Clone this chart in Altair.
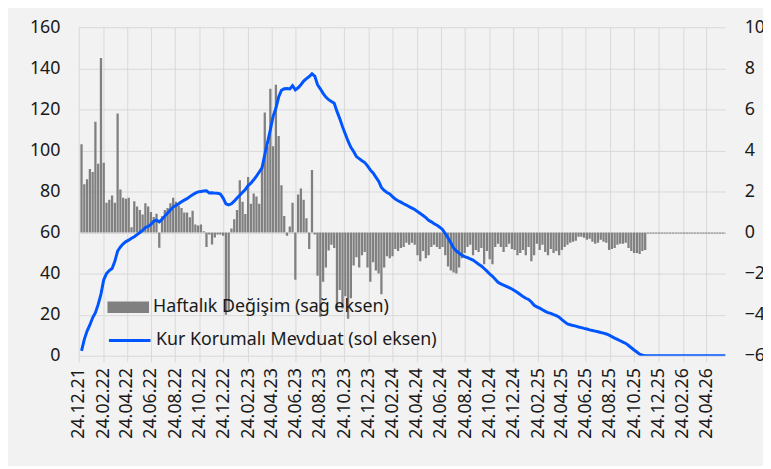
import altair as alt
import pandas as pd

# ---------------- data ----------------
first_week = "2021-12-31"

weekly_change = [
    4.3, 2.35, 2.6, 3.1, 2.95, 5.4, 3.35, 8.5, 3.4, 1.45,
    1.6, 1.8, 1.45, 5.8, 2.1, 1.7, 1.65, 1.7, 0.26, 1.53,
    1.27, 1.1, 0.88, 1.43, 1.27, 1.0, 0.76, 0.92, -0.74, 0.79,
    1.1, 1.2, 1.43, 1.7, 1.5, 1.3, 1.19, 0.98, 0.98, 0.74,
    1.06, 0.39, 0.34, 0.39, 0.06, -0.7, -0.1, -0.58, -0.24, -0.1,
    -0.1, -0.15, -4.0, -3.8,
    0.2, 0.65, 1.1, 2.55, 1.5, 0.9, 2.7, 1.4, 1.9, 1.75,
    1.4, 3.1, 5.85, 4.2, 7.0, 4.2, 7.2, 4.7, 2.3, 0.8,
    -0.15, 0.3, 1.45, -2.3, 1.85, 2.15, 1.6, 0.7, -0.8, 3.05,
    -0.1,
    -2.1, -4.1, -2.4, -1.7, -0.88, -0.6, -0.75, -3.8, -2.8, -3.7,
    -3.1, -4.2, -3.2, -1.6, -1.2, -1.7, -1.1, -0.95, -1.7, -2.4,
    -1.45, -1.85, -2.0, -3.0, -1.7, -1.15, -1.25, -1.15, -0.8, -0.9,
    -0.75, -0.7, -0.5, -0.6, -0.5, -0.6, -1.1, -1.4, -0.9, -1.25,
    -1.1, -0.7, -0.6, -0.7, -0.8, -0.7, -1.1, -1.65, -1.85, -1.95,
    -2.0, -1.7, -1.25,
    -1.0, -0.7, -0.6, -1.1, -0.85, -0.95, -0.75, -1.55, -0.9, -1.3,
    -1.55, -0.7, -0.55, -0.7, -0.95, -0.7, -0.55, -0.8, -0.85, -1.1,
    -1.0, -0.85, -1.1, -0.7,
    -1.4, -1.1, -0.55, -0.85, -0.6, -0.95, -1.1, -0.8, -1.0, -0.9,
    -1.1, -0.85, -0.7, -0.6, -0.5,
    -0.45, -0.4, -0.2, -0.2, -0.25, -0.35, -0.3, -0.45, -0.55, -0.5,
    -0.35, -0.45, -0.5, -0.85, -0.8, -0.75, -0.6, -0.55, -0.55, -0.5,
    -0.75, -0.9, -1.0, -1.0, -1.05, -0.9, -0.85,
    -0.05, -0.05, -0.05, -0.05, -0.05, -0.05, -0.05, -0.05, -0.05, -0.05,
    -0.05, -0.05, -0.05, -0.05, -0.05, -0.05, -0.05, -0.05, -0.05, -0.05,
    -0.05, -0.05, -0.05, -0.05, -0.05, -0.05, -0.05, -0.05, -0.05,
]

kkm_stock = [
    2.4, 8, 12, 15, 18.5, 21, 25, 30, 37, 40,
    41.5, 42.5, 46, 51, 53, 54.5, 55.6, 56.3, 57.2, 58,
    59, 60, 61, 62.5, 63, 64, 65.5, 66, 65.2, 66.5,
    68, 69.5, 71, 72.4, 73.2, 74, 75, 75.8, 76.5, 77.5,
    78.4, 79.2, 79.8, 80, 80.2, 80.3, 79.3, 79.4, 79.2, 79.1,
    78.8, 76.8, 74, 73.5, 74, 75.3, 76.8, 78.2, 79.6, 81,
    82.9, 84, 85.7, 87.5, 89.5, 91.5, 98, 104, 110, 116.6,
    120.5, 126, 129.3, 130, 130.1, 129.9, 131.5, 129.5, 130.5, 132,
    133.8, 135, 136, 137.3, 136.2, 132, 130, 127.8, 126, 124.7,
    123.8, 123, 119, 115.5, 111.5, 108, 104.5, 101.5, 99.5, 97,
    96, 95, 94.1, 92.5, 90.5, 89, 87, 85, 82, 80.5,
    79.5, 78.8, 77.5, 76.3, 75.5, 74.8, 74, 73.4, 72.6, 71.9,
    71.2, 70.2, 69.3, 68.3, 67.3, 66, 65.2, 64.3, 63.6, 62.6,
    61.5, 59.5, 57.3, 55, 52.5, 51, 50, 49, 48.3, 47.8,
    47.2, 46.6, 45.6, 44.6, 43.7, 42.5, 41.2, 39.8, 38.7, 37.3,
    35.8, 35, 34.4, 33.8, 33.2, 32.5, 31.7, 30.8, 29.8, 28.8,
    28, 27.4, 26.2, 24.6, 23.8, 23.2, 22.4, 21.6, 21, 20.6,
    20, 19.5, 18.8, 17.6, 16.5, 15.5, 15.1, 14.7, 14.4, 14.0,
    13.7, 13.3, 13.0, 12.6, 12.3, 12, 11.7, 11.3, 11, 10.6,
    10, 9.3, 8.6, 8, 7.3, 6.6, 6, 5, 3.9, 2.8,
    1.8, 0.8, 0.3, 0,
    0, 0, 0, 0, 0, 0, 0, 0, 0, 0,
    0, 0, 0, 0, 0, 0, 0, 0, 0, 0,
    0, 0, 0, 0, 0, 0, 0, 0, 0,
]

tick_dates = [
    "2021-12-24",
    "2022-02-24", "2022-04-24", "2022-06-24", "2022-08-24", "2022-10-24", "2022-12-24",
    "2023-02-24", "2023-04-24", "2023-06-24", "2023-08-24", "2023-10-24", "2023-12-24",
    "2024-02-24", "2024-04-24", "2024-06-24", "2024-08-24", "2024-10-24", "2024-12-24",
    "2025-02-24", "2025-04-24", "2025-06-24", "2025-08-24", "2025-10-24", "2025-12-24",
    "2026-02-24", "2026-04-24",
]

left_ticks = [0, 20, 40, 60, 80, 100, 120, 140, 160]
right_ticks = [-6, -4, -2, 0, 2, 4, 6, 8, 10]

bar_name = "Haftalık Değişim (sağ eksen)"
line_name = "Kur Korumalı Mevduat (sol eksen)"

# ---------------- table ----------------
dates = pd.date_range(first_week, periods=len(kkm_stock), freq="7D")
df = pd.DataFrame({
    "date": dates.strftime("%Y-%m-%d"),
    "change": weekly_change,
    "stock": kkm_stock,
    "bar_series": bar_name,
    "line_series": line_name,
})


def dt(s):
    y, m, d = (int(v) for v in s.split("-"))
    return alt.DateTime(year=y, month=m, date=d, utc=True)


FONT = "Noto Sans"
GRID = "#d9d9d9"
TEXT = "#1a1a1a"

x_enc = alt.X(
    "date:T",
    title=None,
    scale=alt.Scale(
        type="utc",
        padding=0,
        domain=[dt("2021-12-24"), alt.DateTime(year=2026, month=6, date=11, hours=5, utc=True)],
    ),
    axis=alt.Axis(
        values=[dt(s) for s in tick_dates],
        format="%d.%m.%y",
        labelAngle=270,
        labelFont=FONT,
        labelFontSize=18,
        labelColor=TEXT,
        labelPadding=6,
        tickSize=6,
        tickColor=GRID,
        grid=True,
        gridColor=GRID,
        gridWidth=1,
        domain=False,
        labelOverlap=False,
    ),
)

bars = alt.Chart(df).mark_bar(size=2.3, clip=True).encode(
    x=x_enc,
    y=alt.Y(
        "change:Q",
        title=None,
        scale=alt.Scale(domain=[-6, 10], nice=False, zero=False),
        axis=alt.Axis(
            orient="right",
            values=right_ticks,
            grid=False,
            ticks=False,
            domain=False,
            labelFont=FONT,
            labelFontSize=18,
            labelColor=TEXT,
            labelPadding=19,
        ),
    ),
    fill=alt.Fill(
        "bar_series:N",
        scale=alt.Scale(domain=[bar_name], range=["#808080"]),
        legend=alt.Legend(
            title=None,
            orient="none",
            legendX=29,
            legendY=262,
            padding=0,
            symbolType="M-1,-0.28H1V0.28H-1Z",
            symbolSize=1764,
            symbolStrokeWidth=0,
            symbolOpacity=1,
            labelFont=FONT,
            labelFontSize=18,
            labelColor=TEXT,
            labelOffset=4,
            labelLimit=0,
        ),
    ),
)

line = alt.Chart(df).mark_line(strokeWidth=3, clip=True).encode(
    x=x_enc,
    y=alt.Y(
        "stock:Q",
        title=None,
        scale=alt.Scale(domain=[0, 160], nice=False),
        axis=alt.Axis(
            orient="left",
            values=left_ticks,
            grid=True,
            gridColor=GRID,
            gridWidth=1,
            ticks=False,
            domain=False,
            labelFont=FONT,
            labelFontSize=18,
            labelColor=TEXT,
            labelPadding=19,
        ),
    ),
    stroke=alt.Stroke(
        "line_series:N",
        scale=alt.Scale(domain=[line_name], range=["#0055FF"]),
        legend=alt.Legend(
            title=None,
            orient="none",
            legendX=29,
            legendY=294,
            padding=0,
            symbolType="stroke",
            symbolSize=1764,
            symbolStrokeWidth=3,
            labelFont=FONT,
            labelFontSize=18,
            labelColor=TEXT,
            labelOffset=4,
            labelLimit=0,
        ),
    ),
)

chart = (
    alt.layer(bars, line)
    .resolve_scale(y="independent", fill="independent", stroke="independent")
    .properties(
        width=653.5,
        height=332,
        padding={"left": 71.5, "top": 17, "right": 38, "bottom": 109},
        autosize=alt.AutoSizeParams(type="none"),
        background="#f2f2f2",
    )
    .configure_view(stroke=None)
)

chart.save("out.html", embed_options={"renderer": "svg", "actions": False})
